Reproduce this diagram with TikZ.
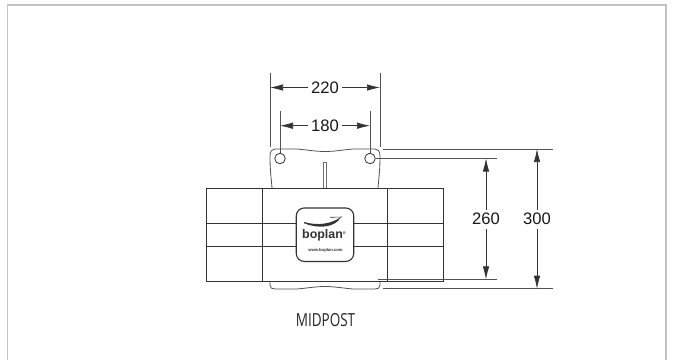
\documentclass[tikz,border=0pt]{standalone}
\usepackage{fontspec}
\setmainfont{Liberation Sans}
\newfontfamily\captionfont{Open Sans}
\usetikzlibrary{arrows.meta,positioning}
\definecolor{framegray}{HTML}{C4C4C4}
\definecolor{bodyline}{HTML}{333333}
\tikzset{
	frameline/.style={draw=framegray,line width=1.7pt},
	bodypart/.style={draw=bodyline,line width=1pt},
	tabline/.style={draw=bodyline!85,line width=0.8pt},
	witness/.style={draw=bodyline!85,line width=0.8pt},
	dimline/.style={draw=bodyline,line width=0.7pt,{Latex[length=13pt,width=6.5pt]}-{Latex[length=13pt,width=6.5pt]}},
	dimlabel/.style={fill=white,inner sep=3.5pt,font=\fontsize{16.6}{16.6}\selectfont,text=black!90}
}
\begin{document}
\begin{tikzpicture}[x=1pt,y=-1pt]
	\useasboundingbox (0,0) rectangle (674,360);
	\fill[white] (0,0) rectangle (674,360);
	\draw[frameline] (7.5,360) -- (7.5,5) -- (666,5) -- (666,360);
	% tabs behind the body
	\draw[tabline] (272,188) .. controls (271,176) and (270,170) .. (270,156)
		.. controls (270,151) and (272,149) .. (275,149) -- (297,149)
		.. controls (308,150) and (316,151.5) .. (325,151.5)
		.. controls (334,151.5) and (342,150) .. (353,149) -- (375,149)
		.. controls (378,149) and (380,151) .. (380,156)
		.. controls (380,170) and (379,176) .. (378,188);
	\draw[tabline] (270,281) -- (270,285) .. controls (270,288) and (272,289) .. (275,289) -- (297,289)
		.. controls (308,288) and (316,286.5) .. (325,286.5)
		.. controls (334,286.5) and (342,288) .. (353,289) -- (375,289)
		.. controls (378,289) and (380,288) .. (380,285) -- (380,281);
	\node[circle,draw=bodyline,line width=0.8pt,minimum size=10.5pt,inner sep=0pt] (hole_l) at (280,158.5) {};
	\node[circle,draw=bodyline,line width=0.8pt,minimum size=10.5pt,inner sep=0pt] (hole_r) at (370,158.5) {};
	\draw[tabline] (275,281) arc (180:0:5 and -4.5);
	\draw[tabline] (365,281) arc (180:0:5 and -4.5);
	\draw[draw=bodyline!70,line width=0.7pt] (323.8,162.5) rectangle (326.2,188);
	% body
	\draw[bodypart,fill=white] (206.5,188) rectangle (443.5,281);
	\draw[bodypart] (262.7,188) -- (262.7,281);
	\draw[bodypart] (387.3,188) -- (387.3,281);
	\draw[bodypart,line width=0.8pt] (206.5,223) -- (443.5,223);
	\draw[bodypart,line width=0.8pt] (206.5,246) -- (443.5,246);
	% logo plate
	\node[draw=bodyline,line width=1.1pt,fill=white,rounded corners=8pt,minimum width=57.5pt,minimum height=53.5pt,inner sep=0pt] (plate) at (325,234.7) {};
	\fill[bodyline] (304,222) .. controls (318,226) and (331,224) .. (341,217)
		.. controls (335,228) and (318,229) .. (304,223.2) -- cycle;
	\draw[bodyline,line width=0.6pt] (330,217.3) -- (342,217);
	\node[font=\bfseries\fontsize{12.4}{12.4}\selectfont,inner sep=0pt,text=bodyline] (logotext) at (324,235) {boplan\raisebox{4pt}{\fontsize{4}{4}\selectfont ®}};
	\node[font=\bfseries\fontsize{4.2}{4.2}\selectfont,inner sep=0pt,text=bodyline] (logoweb) at (325.5,250.7) {www.boplan.com};
	% witness lines
	\coordinate (w220a) at (270,73);
	\coordinate (w220b) at (270,147);
	\coordinate (w220c) at (380,73);
	\coordinate (w220d) at (380,147);
	\coordinate (w180a) at (280,111);
	\coordinate (w180c) at (370,111);
	\draw[witness] (w220a) -- (w220b);
	\draw[witness] (w220c) -- (w220d);
	\draw[witness] (w180a) -- (hole_l);
	\draw[witness] (w180c) -- (hole_r);
	\coordinate (w300a) at (383,149);
	\coordinate (w300b) at (553,149);
	\coordinate (w300c) at (383,288.7);
	\coordinate (w300d) at (553,288.7);
	\coordinate (w260b) at (497,158.5);
	\coordinate (w260c) at (378,279.3);
	\coordinate (w260d) at (497,279.3);
	\draw[witness] (w300a) -- (w300b);
	\draw[witness] (w300c) -- (w300d);
	\draw[witness] (hole_r) -- (w260b);
	\draw[witness] (w260c) -- (w260d);
	% dimensions
	\coordinate (d220a) at (270,87.5);
	\coordinate (d220b) at (380,87.5);
	\coordinate (d180a) at (280,125.7);
	\coordinate (d180b) at (370,125.7);
	\coordinate (d260a) at (486,158.5);
	\coordinate (d260b) at (486,279.3);
	\coordinate (d300a) at (537,149);
	\coordinate (d300b) at (537,288.7);
	\draw[dimline] (d220a) -- (d220b) node[midway,dimlabel] (lab220) {220};
	\draw[dimline] (d180a) -- (d180b) node[midway,dimlabel] (lab180) {180};
	\draw[dimline] (d260a) -- (d260b) node[pos=0.503,dimlabel] (lab260) {260};
	\draw[dimline] (d300a) -- (d300b) node[pos=0.503,dimlabel] (lab300) {300};
	\node[font=\captionfont\fontsize{18}{18}\selectfont,text=black!85,inner sep=0pt] (caption) at (325.5,320.5) {\scalebox{0.75}[1]{MIDPOST}};
\end{tikzpicture}
\end{document}
